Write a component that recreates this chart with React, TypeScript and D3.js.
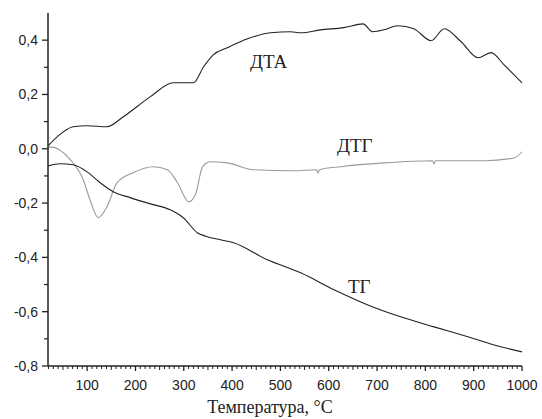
import React from "react";
import * as d3 from "d3";

// temperature, °C / value pairs
const dtaTemp = [19, 38, 71, 100, 141, 175, 231, 278, 320, 341, 361, 390, 432, 480, 521, 542, 583, 631, 671, 691, 714, 743, 776, 812, 839, 874, 909, 936, 963, 1000];
const dtaValue = [0.011, 0.044, 0.081, 0.085, 0.081, 0.118, 0.192, 0.243, 0.243, 0.302, 0.346, 0.372, 0.405, 0.427, 0.431, 0.427, 0.438, 0.446, 0.46, 0.431, 0.438, 0.453, 0.442, 0.398, 0.442, 0.394, 0.335, 0.354, 0.309, 0.243];

const dtgTemp = [19, 24, 65, 92, 106, 123, 141, 162, 195, 237, 266, 287, 310, 324, 339, 355, 390, 444, 527, 575, 578, 581, 625, 714, 815, 818, 821, 923, 985, 1000];
const dtgValue = [0.002, 0.007, -0.04, -0.114, -0.188, -0.254, -0.214, -0.125, -0.088, -0.066, -0.077, -0.125, -0.195, -0.169, -0.066, -0.048, -0.052, -0.077, -0.081, -0.077, -0.09, -0.077, -0.066, -0.052, -0.044, -0.056, -0.044, -0.044, -0.033, -0.011];

const tgTemp = [19, 44, 71, 100, 127, 154, 189, 231, 272, 299, 328, 345, 376, 403, 473, 542, 611, 681, 749, 818, 888, 956, 1000];
const tgValue = [-0.063, -0.055, -0.059, -0.085, -0.125, -0.158, -0.18, -0.203, -0.225, -0.254, -0.309, -0.322, -0.335, -0.346, -0.409, -0.457, -0.519, -0.575, -0.619, -0.656, -0.692, -0.729, -0.748];

const xTicks = [100, 200, 300, 400, 500, 600, 700, 800, 900, 1000];
const yTicks = [-0.8, -0.6, -0.4, -0.2, 0.0, 0.2, 0.4];

const width = 542;
const height = 419;

export default function App() {
  const x = d3.scaleLinear().domain([19, 1000]).range([48, 522]);
  const y = d3.scaleLinear().domain([-0.8, 0.5]).range([366, 13]);

  const mkLine = (t: number[], v: number[]) =>
    d3
      .line<number>()
      .x((d, i) => x(t[i]))
      .y((d) => y(d))
      .curve(d3.curveMonotoneX)(v) || "";

  const minorX = d3.range(20, 1001, 10).filter((t) => t % 100 !== 0);
  const minorY = d3.range(-0.7, 0.5, 0.2);

  const axisColor = "#222";
  const serif = "Liberation Serif, Times New Roman, serif";
  const sans = "Liberation Sans, Arial, sans-serif";

  return (
    <div style={{ position: "absolute", left: 0, top: 0 }}>
      <svg width={width} height={height} style={{ display: "block", background: "#fff" }}>
        {/* curves */}
        <path d={mkLine(dtaTemp, dtaValue)} fill="none" stroke="#222" strokeWidth={1.1} />
        <path d={mkLine(dtgTemp, dtgValue)} fill="none" stroke="#9a9a9a" strokeWidth={1.1} />
        <path d={mkLine(tgTemp, tgValue)} fill="none" stroke="#222" strokeWidth={1.1} />

        {/* y axis */}
        <line x1={48} x2={48} y1={y(0.5)} y2={y(-0.8)} stroke={axisColor} strokeWidth={1.5} />
        {yTicks.map((t) => (
          <g key={t}>
            <line x1={42} x2={48} y1={y(t)} y2={y(t)} stroke={axisColor} strokeWidth={1.3} />
            <text x={38} y={y(t)} dy="0.35em" textAnchor="end" fontFamily={sans} fontSize={14} fill="#222">
              {d3.format(".1f")(t).replace(".", ",").replace("−", "-")}
            </text>
          </g>
        ))}
        {minorY.map((t) => (
          <line key={t} x1={44} x2={48} y1={y(t)} y2={y(t)} stroke={axisColor} strokeWidth={1.2} />
        ))}

        {/* x axis */}
        <line x1={48} x2={522} y1={366} y2={366} stroke={axisColor} strokeWidth={1.5} />
        {minorX.map((t) => (
          <line key={t} x1={x(t)} x2={x(t)} y1={366} y2={t % 50 === 0 ? 370 : 369} stroke={axisColor} strokeWidth={1} />
        ))}
        {xTicks.map((t) => (
          <g key={t}>
            <line x1={x(t)} x2={x(t)} y1={366} y2={371} stroke={axisColor} strokeWidth={1.3} />
            <text x={x(t)} y={390} textAnchor="middle" fontFamily={sans} fontSize={14} fill="#222">
              {t}
            </text>
          </g>
        ))}

        <text x={270} y={413} textAnchor="middle" fontFamily={serif} fontSize={18} fill="#222">
          Температура, °C
        </text>

        {/* curve labels */}
        <text x={250} y={68} fontFamily={serif} fontSize={19} fill="#222">ДТА</text>
        <text x={337} y={152} fontFamily={serif} fontSize={19} fill="#222">ДТГ</text>
        <text x={348} y={293} fontFamily={serif} fontSize={19} fill="#222">ТГ</text>
      </svg>
    </div>
  );
}
